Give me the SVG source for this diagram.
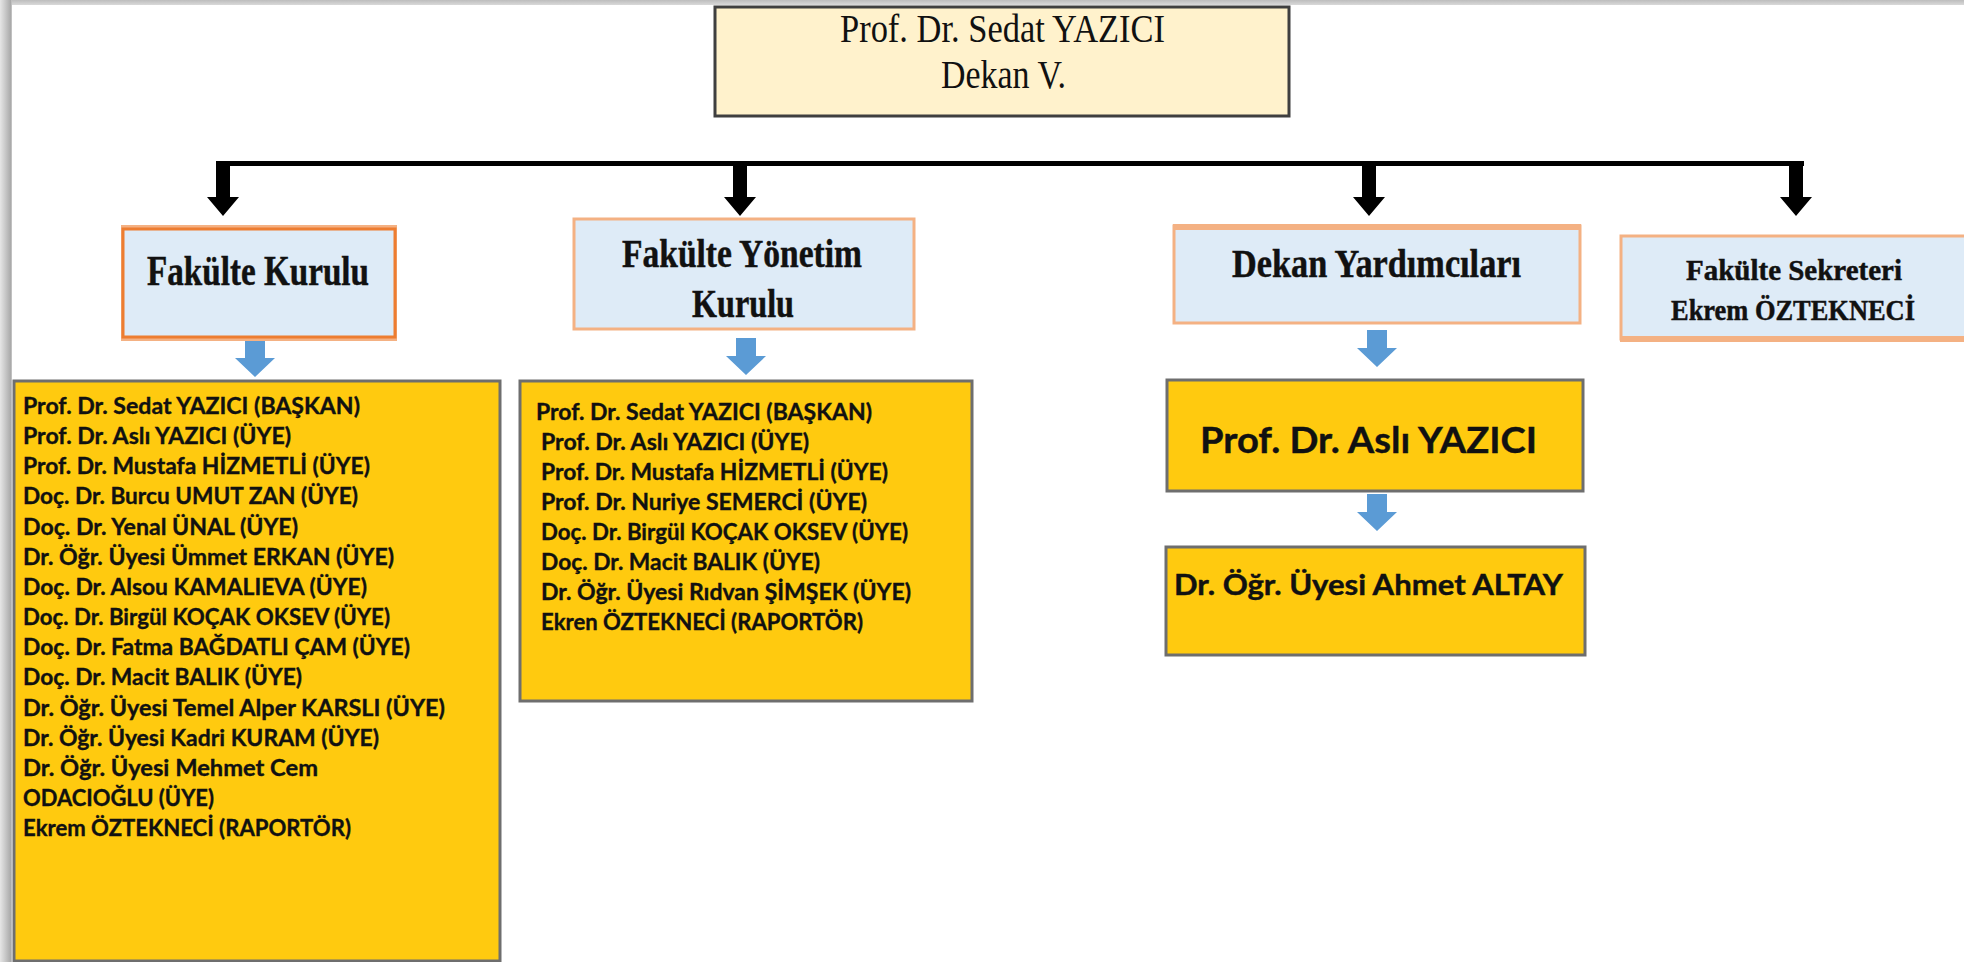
<svg xmlns="http://www.w3.org/2000/svg" width="1964" height="962" viewBox="0 0 1964 962">
<defs>
<linearGradient id="gl" x1="0" y1="0" x2="1" y2="0">
<stop offset="0" stop-color="#e6e6e6"/><stop offset="0.45" stop-color="#c8c8c8"/><stop offset="0.9" stop-color="#a9a9a9"/><stop offset="1" stop-color="#d0d0d0"/>
</linearGradient>
<linearGradient id="gt" x1="0" y1="0" x2="0" y2="1">
<stop offset="0" stop-color="#bdbdbd"/><stop offset="1" stop-color="#d9d9d9"/>
</linearGradient>
<path id="barrow" d="M-7,0 V36 H-16 L0,55 L16,36 H7 V0 Z"/>
<path id="barrowBlue" d="M-10,0 V18 H-20 L0,37 L20,18 H10 V0 Z"/>
</defs>
<style>
.serif{font-family:"Liberation Serif","Times New Roman",serif;fill:#111}
.bold{font-weight:bold;stroke:#111;stroke-width:0.5}
.list{font-family:Lato,"Liberation Sans",Arial,sans-serif;font-weight:bold;font-size:22px;fill:#111;stroke:#111;stroke-width:0.35}
.big{font-family:Lato,"Liberation Sans",Arial,sans-serif;font-weight:bold;fill:#111;stroke:#111;stroke-width:0.4}
.blue{fill:#DEEBF7}
.gold{fill:#FFCA0F;stroke:#6e6e6e;stroke-width:3}
.blk{fill:#000}
.ba{fill:#5B9BD5}
</style>
<rect width="1964" height="962" fill="#fff"/>
<rect x="0" y="0" width="1964" height="5" fill="url(#gt)"/>
<rect x="0" y="0" width="12" height="962" fill="url(#gl)"/>

<g id="connectors">
<rect x="216" y="161" width="1588" height="5" class="blk"/>
<use href="#barrow" x="223" y="161" class="blk"/>
<use href="#barrow" x="740" y="161" class="blk"/>
<use href="#barrow" x="1369" y="161" class="blk"/>
<use href="#barrow" x="1796" y="161" class="blk"/>
<use href="#barrowBlue" x="255" y="340" class="ba"/>
<use href="#barrowBlue" x="746" y="338" class="ba"/>
<use href="#barrowBlue" x="1377" y="330" class="ba"/>
<use href="#barrowBlue" x="1377" y="494" class="ba"/>
</g>

<g id="dekan">
<rect x="715" y="7" width="574" height="109" fill="#FFF2CC" stroke="#3f3f3f" stroke-width="3"/>
<text class="serif" font-size="40" x="840" y="42" textLength="325" lengthAdjust="spacingAndGlyphs">Prof. Dr. Sedat YAZICI</text>
<text class="serif" font-size="40" x="941" y="88" textLength="125" lengthAdjust="spacingAndGlyphs">Dekan V.</text>
</g>

<g id="fakulte-kurulu">
<rect x="121" y="225" width="276" height="116" fill="#F4B183"/>
<rect x="123" y="229" width="272" height="108" class="blue" stroke="#ED7D31" stroke-width="3"/>
<text class="serif bold" font-size="42" x="147" y="285" textLength="222" lengthAdjust="spacingAndGlyphs">Fakülte Kurulu</text>
</g>

<g id="fakulte-yonetim-kurulu">
<rect x="574" y="219" width="340" height="110" class="blue" stroke="#F4B183" stroke-width="3"/>
<text class="serif bold" font-size="40" x="622" y="267" textLength="240" lengthAdjust="spacingAndGlyphs">Fakülte Yönetim</text>
<text class="serif bold" font-size="40" x="692" y="317" textLength="102" lengthAdjust="spacingAndGlyphs">Kurulu</text>
</g>

<g id="dekan-yardimcilari">
<rect x="1174" y="226" width="406" height="97" class="blue" stroke="#F4B183" stroke-width="3"/>
<rect x="1173" y="224" width="408" height="6" fill="#F4B183"/>
<text class="serif bold" font-size="40" x="1232" y="277" textLength="289" lengthAdjust="spacingAndGlyphs">Dekan Yardımcıları</text>
</g>

<g id="fakulte-sekreteri">
<rect x="1621" y="236" width="360" height="103" class="blue" stroke="#F4B183" stroke-width="3"/>
<rect x="1620" y="336" width="350" height="6" fill="#F4B183"/>
<text class="serif bold" font-size="30" x="1686" y="280" textLength="216" lengthAdjust="spacingAndGlyphs">Fakülte Sekreteri</text>
<text class="serif bold" font-size="30" x="1671" y="320" textLength="244" lengthAdjust="spacingAndGlyphs">Ekrem ÖZTEKNECİ</text>
</g>

<g id="fakulte-kurulu-uyeler">
<rect x="14" y="381" width="486" height="580" class="gold"/>
<text class="list" x="23" y="414" textLength="337" lengthAdjust="spacingAndGlyphs">Prof. Dr. Sedat YAZICI (BAŞKAN)</text>
<text class="list" x="23" y="444" textLength="268" lengthAdjust="spacingAndGlyphs">Prof. Dr. Aslı YAZICI (ÜYE)</text>
<text class="list" x="23" y="474" textLength="347" lengthAdjust="spacingAndGlyphs">Prof. Dr. Mustafa HİZMETLİ (ÜYE)</text>
<text class="list" x="23" y="504" textLength="335" lengthAdjust="spacingAndGlyphs">Doç. Dr. Burcu UMUT ZAN (ÜYE)</text>
<text class="list" x="23" y="535" textLength="275" lengthAdjust="spacingAndGlyphs">Doç. Dr. Yenal ÜNAL (ÜYE)</text>
<text class="list" x="23" y="565" textLength="371" lengthAdjust="spacingAndGlyphs">Dr. Öğr. Üyesi Ümmet ERKAN (ÜYE)</text>
<text class="list" x="23" y="595" textLength="344" lengthAdjust="spacingAndGlyphs">Doç. Dr. Alsou KAMALIEVA (ÜYE)</text>
<text class="list" x="23" y="625" textLength="367" lengthAdjust="spacingAndGlyphs">Doç. Dr. Birgül KOÇAK OKSEV (ÜYE)</text>
<text class="list" x="23" y="655" textLength="387" lengthAdjust="spacingAndGlyphs">Doç. Dr. Fatma BAĞDATLI ÇAM (ÜYE)</text>
<text class="list" x="23" y="685" textLength="279" lengthAdjust="spacingAndGlyphs">Doç. Dr. Macit BALIK (ÜYE)</text>
<text class="list" x="23" y="716" textLength="422" lengthAdjust="spacingAndGlyphs">Dr. Öğr. Üyesi Temel Alper KARSLI (ÜYE)</text>
<text class="list" x="23" y="746" textLength="356" lengthAdjust="spacingAndGlyphs">Dr. Öğr. Üyesi Kadri KURAM (ÜYE)</text>
<text class="list" x="23" y="776" textLength="295" lengthAdjust="spacingAndGlyphs">Dr. Öğr. Üyesi Mehmet Cem</text>
<text class="list" x="23" y="806" textLength="191" lengthAdjust="spacingAndGlyphs">ODACIOĞLU (ÜYE)</text>
<text class="list" x="23" y="836" textLength="328" lengthAdjust="spacingAndGlyphs">Ekrem ÖZTEKNECİ (RAPORTÖR)</text>
</g>

<g id="yonetim-kurulu-uyeler">
<rect x="520" y="381" width="452" height="320" class="gold"/>
<text class="list" x="536" y="420" textLength="336" lengthAdjust="spacingAndGlyphs">Prof. Dr. Sedat YAZICI (BAŞKAN)</text>
<text class="list" x="541" y="450" textLength="268" lengthAdjust="spacingAndGlyphs">Prof. Dr. Aslı YAZICI (ÜYE)</text>
<text class="list" x="541" y="480" textLength="347" lengthAdjust="spacingAndGlyphs">Prof. Dr. Mustafa HİZMETLİ (ÜYE)</text>
<text class="list" x="541" y="510" textLength="326" lengthAdjust="spacingAndGlyphs">Prof. Dr. Nuriye SEMERCİ (ÜYE)</text>
<text class="list" x="541" y="540" textLength="367" lengthAdjust="spacingAndGlyphs">Doç. Dr. Birgül KOÇAK OKSEV (ÜYE)</text>
<text class="list" x="541" y="570" textLength="279" lengthAdjust="spacingAndGlyphs">Doç. Dr. Macit BALIK (ÜYE)</text>
<text class="list" x="541" y="600" textLength="370" lengthAdjust="spacingAndGlyphs">Dr. Öğr. Üyesi Rıdvan ŞİMŞEK (ÜYE)</text>
<text class="list" x="541" y="630" textLength="322" lengthAdjust="spacingAndGlyphs">Ekren ÖZTEKNECİ (RAPORTÖR)</text>
</g>

<g id="dekan-yardimcisi-1">
<rect x="1167" y="380" width="416" height="111" class="gold"/>
<text class="big" font-size="37" x="1200" y="453" textLength="337" lengthAdjust="spacingAndGlyphs">Prof. Dr. Aslı YAZICI</text>
</g>

<g id="dekan-yardimcisi-2">
<rect x="1166" y="547" width="419" height="108" class="gold"/>
<text class="big" font-size="28" x="1174" y="595" textLength="389" lengthAdjust="spacingAndGlyphs">Dr. Öğr. Üyesi Ahmet ALTAY</text>
</g>
</svg>
